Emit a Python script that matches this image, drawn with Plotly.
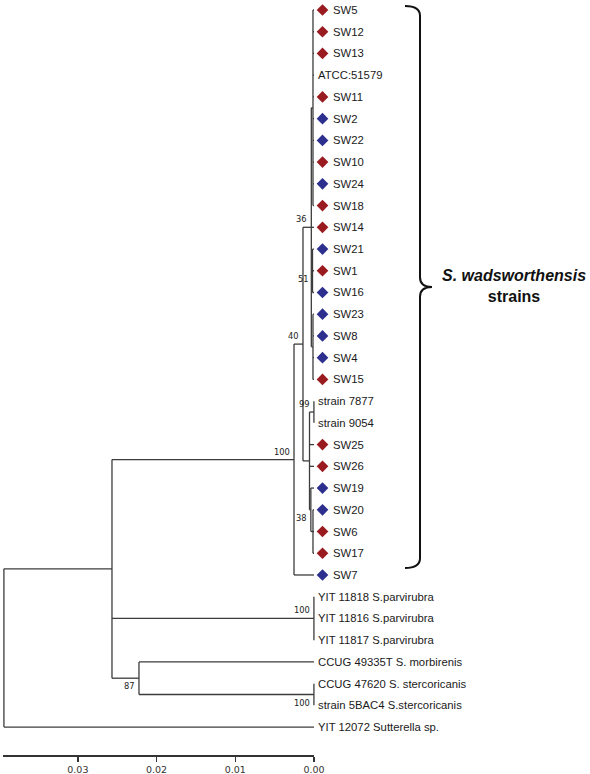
import plotly.graph_objects as go

# ---------------- data ----------------
LEAF_NAMES = ["SW5", "SW12", "SW13", "ATCC:51579", "SW11", "SW2", "SW22", "SW10", "SW24",
              "SW18", "SW14", "SW21", "SW1", "SW16", "SW23", "SW8", "SW4", "SW15",
              "strain 7877", "strain 9054", "SW25", "SW26", "SW19", "SW20", "SW6", "SW17",
              "SW7", "YIT 11818 S.parvirubra", "YIT 11816 S.parvirubra",
              "YIT 11817 S.parvirubra", "CCUG 49335T S. morbirenis",
              "CCUG 47620 S. stercoricanis", "strain 5BAC4 S.stercoricanis",
              "YIT 12072 Sutterella sp."]
LEAF_GROUP = ["red", "red", "red", "", "red", "blue", "blue", "red", "blue",
              "red", "red", "blue", "red", "blue", "blue", "blue", "blue", "red",
              "", "", "red", "red", "blue", "blue", "red", "red",
              "blue", "", "", "", "", "", "", ""]

NODE_NAMES = ["root", "A", "B", "P", "S", "C", "D", "E", "E1", "N51", "E2",
              "F", "H99", "H38", "I"]
NODE_CHILDREN = [
    ["A", "YIT 12072 Sutterella sp."],
    ["C", "P", "B"],
    ["CCUG 49335T S. morbirenis", "S"],
    ["YIT 11818 S.parvirubra", "YIT 11816 S.parvirubra", "YIT 11817 S.parvirubra"],
    ["CCUG 47620 S. stercoricanis", "strain 5BAC4 S.stercoricanis"],
    ["D", "SW7"],
    ["E", "F"],
    ["E1", "SW14", "N51", "E2"],
    ["SW5", "SW12", "SW13", "ATCC:51579", "SW11", "SW2", "SW22", "SW10", "SW24", "SW18"],
    ["SW21", "SW1", "SW16"],
    ["SW23", "SW8", "SW4", "SW15"],
    ["H99", "SW25", "SW26", "H38"],
    ["strain 7877", "strain 9054"],
    ["SW19", "I"],
    ["SW20", "SW6", "SW17"],
]
NODE_HEIGHTS = [0.0394, 0.02567, 0.02224, 0.00001, 0.00001, 0.00254, 0.00140, 0.00034,
                0.00013, 0.00019, 0.00013, 0.00057, 0.00001, 0.00040, 0.00013]
NODE_SUPPORT = ["", "", "87", "100", "100", "100", "40", "36", "", "51", "", "",
                "99", "38", ""]
SUPPORT_SIDE = [0, 0, 1, -1, 1, -1, -1, -1, 0, 1, 0, 0, -1, 1, 0]  # -1 above, 1 below

SCALE_TICKS = [0.00, 0.01, 0.02, 0.03]
SCALE_LABELS = ["0.00", "0.01", "0.02", "0.03"]
CLADE_LABEL = "<b><i>S. wadsworthensis</i></b><br><b>strains</b>"

# ---------------- style ----------------
LINE_COLOR = "#3c3c3c"
RED = "#9a1b1f"
BLUE = "#2c2f8e"
MARKER_OFFSET = -0.00108
LEAF_FONT = dict(family="Liberation Sans, Arial, sans-serif", size=11.3, color="#1a1a1a")
SUP_FONT = dict(family="DejaVu Sans, sans-serif", size=8.3, color="#222")

# ---------------- layout computation ----------------
leaf_y = {n: i for i, n in enumerate(LEAF_NAMES)}
node_idx = {n: i for i, n in enumerate(NODE_NAMES)}
pos = {}


def place(name):
    if name in leaf_y:
        pos[name] = (0.0, float(leaf_y[name]))
        return pos[name]
    i = node_idx[name]
    ys = [place(c)[1] for c in NODE_CHILDREN[i]]
    pos[name] = (NODE_HEIGHTS[i], (ys[0] + ys[-1]) / 2)
    return pos[name]


place("root")

xs, ys = [], []
for i, n in enumerate(NODE_NAMES):
    h, y = pos[n]
    ch = NODE_CHILDREN[i]
    y0, y1 = pos[ch[0]][1], pos[ch[-1]][1]
    xs += [h, h, None]
    ys += [y0, y1, None]
    for c in ch:
        cx, cy = pos[c]
        xs += [h, cx, None]
        ys += [cy, cy, None]

fig = go.Figure()
fig.add_trace(go.Scatter(x=xs, y=ys, mode="lines",
                         line=dict(color=LINE_COLOR, width=1.3),
                         hoverinfo="skip", showlegend=False))

for grp, col in [("red", RED), ("blue", BLUE)]:
    yy = [leaf_y[n] for n, g in zip(LEAF_NAMES, LEAF_GROUP) if g == grp]
    fig.add_trace(go.Scatter(x=[MARKER_OFFSET] * len(yy), y=yy, mode="markers",
                             marker=dict(symbol="diamond", size=9, color=col,
                                         line=dict(width=0)),
                             hoverinfo="skip", showlegend=False))

annotations = []
for n, g in zip(LEAF_NAMES, LEAF_GROUP):
    annotations.append(dict(x=0, y=leaf_y[n], xref="x", yref="y", text=n,
                            showarrow=False, xanchor="left", yanchor="middle",
                            xshift=17 if g else 2, font=LEAF_FONT))

for i, n in enumerate(NODE_NAMES):
    if NODE_SUPPORT[i]:
        h, y = pos[n]
        annotations.append(dict(x=h, y=y, xref="x", yref="y", text=NODE_SUPPORT[i],
                                showarrow=False, xanchor="right", yanchor="middle",
                                xshift=-2, yshift=-8 * SUPPORT_SIDE[i], font=SUP_FONT))

# brace spanning the S. wadsworthensis clade
top = leaf_y["SW5"] - 0.18
bot = leaf_y["SW17"] + 0.68
mid = (top + bot) / 2
x_end, x_sp, x_tip = -0.01156, -0.01347, -0.01499
r = 0.45
path = (f"M {x_end},{top} Q {x_sp},{top} {x_sp},{top + r} "
        f"L {x_sp},{mid - r} Q {x_sp},{mid} {x_tip},{mid} "
        f"Q {x_sp},{mid} {x_sp},{mid + r} "
        f"L {x_sp},{bot - r} Q {x_sp},{bot} {x_end},{bot}")
fig.add_shape(type="path", path=path, xref="x", yref="y",
              line=dict(color="#111", width=2))

annotations.append(dict(x=-0.0254, y=mid - 0.05, xref="x", yref="y", text=CLADE_LABEL,
                        showarrow=False, xanchor="center", yanchor="middle",
                        font=dict(family="Liberation Sans, Arial, sans-serif",
                                  size=16, color="#111")))

# invisible trace to activate the scale-bar axis
fig.add_trace(go.Scatter(x=[SCALE_TICKS[0], SCALE_TICKS[-1]], y=[34, 34], xaxis="x2",
                         yaxis="y", mode="lines", opacity=0, hoverinfo="skip",
                         showlegend=False))

px_per_unit = 7870.0
x_tip_px = 314.0
W, H = 590, 774
fig.update_layout(
    width=W, height=H, autosize=False,
    margin=dict(l=0, r=0, t=0, b=0, pad=0, autoexpand=False),
    paper_bgcolor="white", plot_bgcolor="rgba(0,0,0,0)",
    xaxis=dict(range=[x_tip_px / px_per_unit, -(W - x_tip_px) / px_per_unit],
               visible=False, showgrid=False, zeroline=False, automargin=False),
    yaxis=dict(range=[(H - 10) / 21.73, -10 / 21.73], visible=False,
               showgrid=False, zeroline=False, automargin=False),
    xaxis2=dict(range=[0.0395, 0.0], domain=[3.1 / W, x_tip_px / W],
                anchor="free", position=1 - 755 / H, showline=True, automargin=False,
                linecolor="#333", linewidth=1.5, ticks="outside", ticklen=5,
                tickwidth=1.3, tickcolor="#333", tickvals=SCALE_TICKS,
                ticktext=SCALE_LABELS, showgrid=False, zeroline=False,
                tickfont=dict(family="DejaVu Sans, sans-serif", size=9.5, color="#333")),
    annotations=annotations,
    showlegend=False,
)

fig.write_html(
    "out.html",
    config={"displayModeBar": False, "responsive": False, "staticPlot": True},
    post_script=("document.documentElement.style.overflow='hidden';"
                 "document.body.style.overflow='hidden';"
                 "document.body.style.margin='0';document.body.style.padding='0';"),
)
